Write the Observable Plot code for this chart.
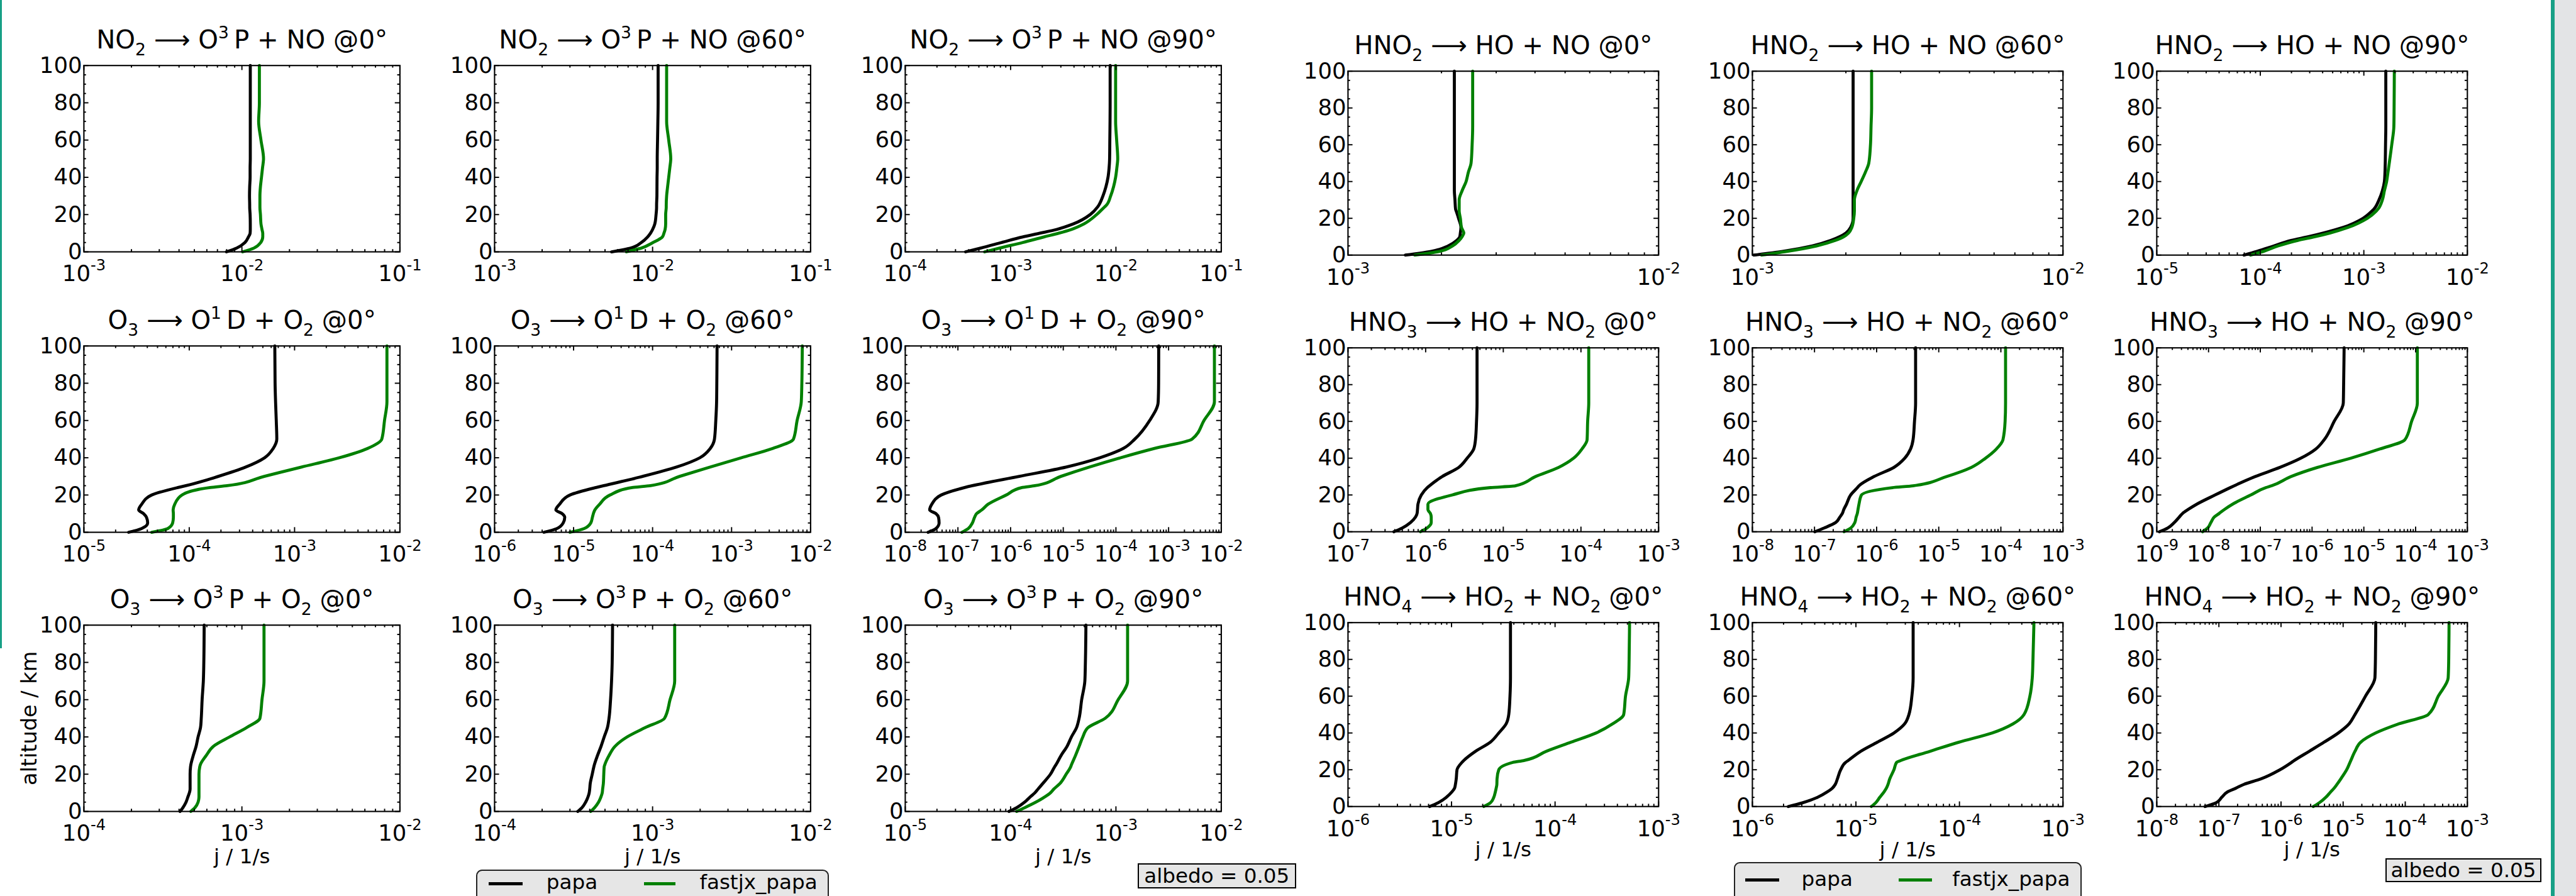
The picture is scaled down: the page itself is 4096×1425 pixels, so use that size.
<!DOCTYPE html>
<html><head><meta charset="utf-8">
<script src="https://cdn.jsdelivr.net/npm/d3@7"></script>
<script src="https://cdn.jsdelivr.net/npm/@observablehq/plot@0.6"></script>
<style>
html,body{margin:0;padding:0;background:#fff;overflow:hidden;}
#root{position:relative;width:4096px;height:1425px;overflow:hidden;background:#fff;font-family:"DejaVu Sans",sans-serif;color:#000;}
#root svg{max-width:none;}
</style></head><body><div id="root"></div>
<script>
const S = 0.959;

// altitude grid (km)
const altitude = [0,2,5,8,10,12,15,20,24,25,30,35,40,45,50,60,70,80,100];

// panel titles (left figure, then right figure; row-major). _x = subscript, ^x = superscript
const titles = [
  "NO_2 ⟶ O^3\u2009P + NO @0°", "NO_2 ⟶ O^3\u2009P + NO @60°", "NO_2 ⟶ O^3\u2009P + NO @90°",
  "O_3 ⟶ O^1\u2009D + O_2 @0°", "O_3 ⟶ O^1\u2009D + O_2 @60°", "O_3 ⟶ O^1\u2009D + O_2 @90°",
  "O_3 ⟶ O^3\u2009P + O_2 @0°", "O_3 ⟶ O^3\u2009P + O_2 @60°", "O_3 ⟶ O^3\u2009P + O_2 @90°",
  "HNO_2 ⟶ HO + NO @0°", "HNO_2 ⟶ HO + NO @60°", "HNO_2 ⟶ HO + NO @90°",
  "HNO_3 ⟶ HO + NO_2 @0°", "HNO_3 ⟶ HO + NO_2 @60°", "HNO_3 ⟶ HO + NO_2 @90°",
  "HNO_4 ⟶ HO_2 + NO_2 @0°", "HNO_4 ⟶ HO_2 + NO_2 @60°", "HNO_4 ⟶ HO_2 + NO_2 @90°"
];

// x-axis (j / 1/s) limits per panel
const xDomains = [
  [1e-3,1e-1],[1e-3,1e-1],[1e-4,1e-1],
  [1e-5,1e-2],[1e-6,1e-2],[1e-8,1e-2],
  [1e-4,1e-2],[1e-4,1e-2],[1e-5,1e-2],
  [1e-3,1e-2],[1e-3,1e-2],[1e-5,1e-2],
  [1e-7,1e-3],[1e-8,1e-3],[1e-9,1e-3],
  [1e-6,1e-3],[1e-6,1e-3],[1e-8,1e-3]
];

// photolysis rates j (1/s) at the altitude grid
const no2_0_papa   = [7.98e-3,9.25e-3,1.045e-2,1.10e-2,1.127e-2,1.13e-2,1.13e-2,1.127e-2,1.12e-2,1.12e-2,1.117e-2,1.12e-2,1.127e-2,1.127e-2,1.13e-2,1.13e-2,1.13e-2,1.13e-2,1.13e-2];
const no2_0_fastjx = [1.01e-2,1.19e-2,1.315e-2,1.355e-2,1.355e-2,1.34e-2,1.32e-2,1.31e-2,1.30e-2,1.30e-2,1.30e-2,1.31e-2,1.33e-2,1.35e-2,1.37e-2,1.32e-2,1.276e-2,1.29e-2,1.29e-2];
const no2_60_papa   = [5.5e-3,7.26e-3,8.48e-3,9.3e-3,9.7e-3,1.0e-2,1.033e-2,1.052e-2,1.06e-2,1.06e-2,1.065e-2,1.066e-2,1.067e-2,1.07e-2,1.07e-2,1.075e-2,1.08e-2,1.084e-2,1.084e-2];
const no2_60_fastjx = [6.83e-3,8.48e-3,1.007e-2,1.153e-2,1.18e-2,1.20e-2,1.21e-2,1.21e-2,1.22e-2,1.22e-2,1.227e-2,1.245e-2,1.265e-2,1.285e-2,1.303e-2,1.265e-2,1.227e-2,1.227e-2,1.227e-2];
const no2_90_papa   = [3.74e-4,5.18e-4,8.2e-4,1.30e-3,1.89e-3,2.73e-3,3.95e-3,5.70e-3,6.68e-3,6.87e-3,7.53e-3,8.04e-3,8.41e-3,8.61e-3,8.71e-3,8.75e-3,8.79e-3,8.81e-3,8.81e-3];
const no2_90_fastjx = [5.68e-4,7.83e-4,1.30e-3,2.07e-3,2.86e-3,3.77e-3,4.97e-3,6.56e-3,7.76e-3,8.11e-3,8.91e-3,9.5e-3,9.93e-3,1.02e-2,1.04e-2,1.016e-2,9.93e-3,9.93e-3,9.93e-3];
const o1d_0_papa   = [2.66e-5,3.53e-5,4.03e-5,3.93e-5,3.69e-5,3.31e-5,3.53e-5,4.40e-5,7.8e-5,9.3e-5,1.89e-4,3.44e-4,5.2e-4,6.27e-4,6.78e-4,6.7e-4,6.6e-4,6.53e-4,6.49e-4];
const o1d_0_fastjx = [4.4e-5,6.26e-5,6.96e-5,7.07e-5,7.07e-5,7.03e-5,7.28e-5,8.53e-5,1.58e-4,2.29e-4,5.16e-4,1.16e-3,2.66e-3,4.93e-3,6.73e-3,7.14e-3,7.53e-3,7.53e-3,7.53e-3];
const o1d_60_papa   = [4.22e-6,6.15e-6,7.38e-6,7.73e-6,7.16e-6,5.97e-6,6.64e-6,9.0e-6,1.92e-5,2.41e-5,7.5e-5,2.01e-4,3.97e-4,5.37e-4,6.07e-4,6.31e-4,6.46e-4,6.5e-4,6.55e-4];
const o1d_60_fastjx = [9.0e-6,1.36e-5,1.65e-5,1.73e-5,1.78e-5,1.86e-5,2.13e-5,2.89e-5,5.53e-5,9.42e-5,2.2e-4,5.37e-4,1.33e-3,3.31e-3,6.07e-3,6.75e-3,7.62e-3,7.75e-3,7.85e-3];
const o1d_90_papa   = [2.72e-8,3.83e-8,4.39e-8,4.29e-8,3.83e-8,2.91e-8,3.19e-8,4.81e-8,1.34e-7,1.88e-7,1.46e-6,1.13e-5,4.96e-5,1.38e-4,2.28e-4,4.37e-4,6.34e-4,6.46e-4,6.49e-4];
const o1d_90_fastjx = [1.19e-7,1.57e-7,1.88e-7,2.07e-7,2.26e-7,2.84e-7,3.72e-7,8.26e-7,1.64e-6,2.89e-6,9.02e-6,3.15e-5,1.23e-4,5.41e-4,2.79e-3,4.7e-3,7.41e-3,7.41e-3,7.41e-3];
const o3p_0_papa   = [4.06e-4,4.23e-4,4.43e-4,4.56e-4,4.65e-4,4.70e-4,4.70e-4,4.70e-4,4.73e-4,4.75e-4,4.92e-4,5.13e-4,5.28e-4,5.47e-4,5.53e-4,5.60e-4,5.70e-4,5.74e-4,5.77e-4];
const o3p_0_fastjx = [4.75e-4,5.04e-4,5.28e-4,5.35e-4,5.35e-4,5.35e-4,5.35e-4,5.35e-4,5.41e-4,5.45e-4,5.94e-4,6.61e-4,8.36e-4,1.07e-3,1.30e-3,1.34e-3,1.38e-3,1.38e-3,1.38e-3];
const o3p_60_papa   = [3.36e-4,3.57e-4,3.77e-4,3.91e-4,3.97e-4,4.0e-4,4.03e-4,4.15e-4,4.25e-4,4.28e-4,4.48e-4,4.72e-4,4.94e-4,5.18e-4,5.30e-4,5.42e-4,5.50e-4,5.55e-4,5.58e-4];
const o3p_60_fastjx = [4.06e-4,4.29e-4,4.55e-4,4.72e-4,4.80e-4,4.83e-4,4.88e-4,4.91e-4,4.94e-4,4.98e-4,5.30e-4,5.79e-4,6.90e-4,8.99e-4,1.19e-3,1.29e-3,1.38e-3,1.38e-3,1.38e-3];
const o3p_90_papa   = [9.64e-5,1.14e-4,1.36e-4,1.55e-4,1.70e-4,1.82e-4,2.02e-4,2.39e-4,2.62e-4,2.69e-4,3.01e-4,3.44e-4,3.78e-4,4.23e-4,4.47e-4,4.73e-4,5.07e-4,5.13e-4,5.19e-4];
const o3p_90_fastjx = [1.14e-4,1.36e-4,1.74e-4,2.14e-4,2.39e-4,2.57e-4,2.94e-4,3.37e-4,3.72e-4,3.78e-4,4.13e-4,4.48e-4,4.85e-4,5.43e-4,7.91e-4,1.05e-3,1.29e-3,1.29e-3,1.29e-3];
const hno2_0_papa   = [1.53e-3,1.85e-3,2.10e-3,2.24e-3,2.29e-3,2.30e-3,2.31e-3,2.27e-3,2.23e-3,2.22e-3,2.21e-3,2.20e-3,2.20e-3,2.20e-3,2.20e-3,2.20e-3,2.20e-3,2.20e-3,2.20e-3];
const hno2_0_fastjx = [1.64e-3,1.97e-3,2.17e-3,2.28e-3,2.33e-3,2.36e-3,2.32e-3,2.30e-3,2.28e-3,2.28e-3,2.28e-3,2.33e-3,2.40e-3,2.44e-3,2.49e-3,2.51e-3,2.52e-3,2.52e-3,2.52e-3];
const hno2_60_papa   = [1.01e-3,1.25e-3,1.56e-3,1.79e-3,1.91e-3,2.0e-3,2.07e-3,2.11e-3,2.11e-3,2.11e-3,2.11e-3,2.11e-3,2.11e-3,2.11e-3,2.11e-3,2.11e-3,2.11e-3,2.11e-3,2.11e-3];
const hno2_60_fastjx = [1.07e-3,1.29e-3,1.61e-3,1.85e-3,1.97e-3,2.04e-3,2.09e-3,2.12e-3,2.13e-3,2.13e-3,2.13e-3,2.17e-3,2.24e-3,2.31e-3,2.37e-3,2.40e-3,2.41e-3,2.42e-3,2.42e-3];
const hno2_90_papa   = [6.95e-5,9.27e-5,1.36e-4,1.99e-4,2.92e-4,4.07e-4,6.27e-4,9.82e-4,1.20e-3,1.25e-3,1.40e-3,1.51e-3,1.58e-3,1.60e-3,1.61e-3,1.62e-3,1.63e-3,1.63e-3,1.63e-3];
const hno2_90_fastjx = [8.04e-5,1.07e-4,1.49e-4,2.30e-4,3.37e-4,4.70e-4,7.01e-4,1.08e-3,1.32e-3,1.37e-3,1.51e-3,1.58e-3,1.66e-3,1.71e-3,1.76e-3,1.86e-3,1.95e-3,1.96e-3,1.97e-3];
const hno3_0_papa   = [3.89e-7,4.98e-7,6.37e-7,7.41e-7,7.76e-7,7.85e-7,7.96e-7,8.79e-7,1.05e-6,1.12e-6,1.63e-6,2.67e-6,3.42e-6,4.16e-6,4.38e-6,4.52e-6,4.59e-6,4.59e-6,4.59e-6];
const hno3_0_fastjx = [8.57e-7,1.04e-6,1.18e-6,1.18e-6,1.15e-6,1.07e-6,1.07e-6,2.19e-6,6.82e-6,1.43e-5,2.59e-5,5.16e-5,8.05e-5,1.03e-4,1.20e-4,1.22e-4,1.26e-4,1.26e-4,1.26e-4];
const hno3_60_papa   = [1.01e-7,1.42e-7,2.19e-7,2.56e-7,2.81e-7,2.95e-7,3.27e-7,3.82e-7,4.90e-7,5.20e-7,9.06e-7,1.90e-6,2.84e-6,3.52e-6,3.86e-6,4.07e-6,4.24e-6,4.24e-6,4.24e-6];
const hno3_60_fastjx = [2.99e-7,3.82e-7,4.46e-7,4.68e-7,4.89e-7,5.01e-7,5.20e-7,5.70e-7,1.79e-6,3.86e-6,1.33e-5,3.35e-5,5.66e-5,8.47e-5,1.08e-4,1.17e-4,1.19e-4,1.19e-4,1.19e-4];
const hno3_90_papa   = [1.12e-9,1.62e-9,2.18e-9,2.72e-9,3.16e-9,3.98e-9,5.92e-9,1.34e-8,2.63e-8,3.13e-8,7.91e-8,2.40e-7,6.07e-7,1.18e-6,1.71e-6,2.67e-6,4.01e-6,4.07e-6,4.16e-6];
const hno3_90_fastjx = [7.67e-9,9.57e-9,1.11e-8,1.29e-8,1.61e-8,2.0e-8,2.91e-8,6.58e-8,1.28e-7,1.66e-7,3.89e-7,1.27e-6,5.58e-6,2.04e-5,6.21e-5,8.36e-5,1.08e-4,1.08e-4,1.08e-4];
const hno4_0_papa   = [6.14e-6,7.40e-6,8.89e-6,1.01e-5,1.07e-5,1.09e-5,1.11e-5,1.13e-5,1.26e-5,1.31e-5,1.70e-5,2.37e-5,2.86e-5,3.37e-5,3.57e-5,3.67e-5,3.71e-5,3.71e-5,3.71e-5];
const hno4_0_fastjx = [2.05e-5,2.37e-5,2.56e-5,2.65e-5,2.70e-5,2.74e-5,2.75e-5,2.86e-5,3.91e-5,4.98e-5,8.20e-5,1.43e-4,2.49e-4,3.61e-4,4.60e-4,4.79e-4,5.14e-4,5.19e-4,5.24e-4];
const hno4_60_papa   = [2.22e-6,3.04e-6,4.25e-6,5.30e-6,5.92e-6,6.31e-6,6.62e-6,7.13e-6,7.94e-6,8.41e-6,1.11e-5,1.61e-5,2.33e-5,2.96e-5,3.25e-5,3.47e-5,3.57e-5,3.57e-5,3.57e-5];
const hno4_60_fastjx = [1.41e-5,1.55e-5,1.70e-5,1.87e-5,1.97e-5,2.04e-5,2.12e-5,2.33e-5,2.47e-5,2.70e-5,5.18e-5,9.89e-5,2.07e-4,3.30e-4,4.20e-4,4.79e-4,5.05e-4,5.13e-4,5.24e-4];
const hno4_90_papa   = [5.98e-8,8.95e-8,1.11e-7,1.38e-7,1.88e-7,2.51e-7,4.74e-7,9.64e-7,1.48e-6,1.63e-6,2.84e-6,4.94e-6,8.36e-6,1.25e-5,1.55e-5,2.29e-5,3.25e-5,3.31e-5,3.35e-5];
const hno4_90_fastjx = [3.31e-6,4.11e-6,5.26e-6,6.31e-6,7.16e-6,7.94e-6,9.16e-6,1.14e-5,1.29e-5,1.33e-5,1.55e-5,1.92e-5,3.35e-5,7.96e-5,2.34e-4,3.40e-4,4.91e-4,5.01e-4,5.07e-4];

const papaSeries = [no2_0_papa,no2_60_papa,no2_90_papa,o1d_0_papa,o1d_60_papa,o1d_90_papa,o3p_0_papa,o3p_60_papa,o3p_90_papa,
  hno2_0_papa,hno2_60_papa,hno2_90_papa,hno3_0_papa,hno3_60_papa,hno3_90_papa,hno4_0_papa,hno4_60_papa,hno4_90_papa];
const fastjxSeries = [no2_0_fastjx,no2_60_fastjx,no2_90_fastjx,o1d_0_fastjx,o1d_60_fastjx,o1d_90_fastjx,o3p_0_fastjx,o3p_60_fastjx,o3p_90_fastjx,
  hno2_0_fastjx,hno2_60_fastjx,hno2_90_fastjx,hno3_0_fastjx,hno3_60_fastjx,hno3_90_fastjx,hno4_0_fastjx,hno4_60_fastjx,hno4_90_fastjx];

const seriesNames = ["papa", "fastjx_papa"];
const seriesColors = ["#000000", "#008000"];
const yTicks = [0,20,40,60,80,100];
const albedoText = "albedo = 0.05";
const xLabel = "j / 1/s";
const yLabel = "altitude / km";

// ---------- layout (reference pixel units) ----------
const layout = [
  {x:[139,820,1500], y:[108,573,1036], w:524, h:309, xlabDy:86},
  {x:[2235,2905,3575], y:[118,576,1032], w:515, h:305, xlabDy:83}
];
const FONT = "'DejaVu Sans', sans-serif";
const SVGNS = "http://www.w3.org/2000/svg";

// turn "_x" / "^x" / "^{..}" markup into sub/superscript tspans
function richify(t, F, scale, raise, drop) {
  const s = t.textContent;
  const parts = [];
  const re = /([\^_])(?:\{([^}]*)\}|(.))/g;
  let last = 0, m;
  while ((m = re.exec(s))) {
    if (m.index > last) parts.push({k: 0, s: s.slice(last, m.index)});
    parts.push({k: m[1] === "^" ? 1 : -1, s: m[2] != null ? m[2] : m[3]});
    last = re.lastIndex;
  }
  if (last < s.length) parts.push({k: 0, s: s.slice(last)});
  while (t.firstChild) t.removeChild(t.firstChild);
  let cur = 0;
  for (const p of parts) {
    const ts = document.createElementNS(SVGNS, "tspan");
    const target = p.k === 1 ? -raise * F : p.k === -1 ? drop * F : 0;
    if (target !== cur) ts.setAttribute("dy", (target - cur).toFixed(2));
    cur = target;
    if (p.k) ts.setAttribute("font-size", (scale * F).toFixed(2));
    ts.textContent = p.s;
    t.appendChild(ts);
  }
}

const root = document.getElementById("root");
const TICKF = 37 * S, TITLEF = 42 * S;

for (let i = 0; i < 18; i++) {
  const g = i < 9 ? 0 : 1, k = i % 9, r = Math.floor(k / 3), c = k % 3;
  const L = layout[g];
  const w = L.w * S, h = L.h * S;
  const ML = 100 * S, MR = 40 * S, MT = 80 * S, MB = 120 * S;
  const [lo, hi] = xDomains[i];
  const e0 = Math.round(Math.log10(lo)), e1 = Math.round(Math.log10(hi));
  const majX = d3.range(e0, e1 + 1).map(e => +("1e" + e));
  const minX = [];
  for (let e = e0; e < e1; e++) for (let m = 2; m <= 9; m++) minX.push(+(m + "e" + e));
  const minY = d3.range(5, 100, 5).filter(v => v % 20 !== 0);
  const majL = 8 * S, minL = 4 * S;
  const fy = len => 100 * len / h;
  const fx = len => Math.pow(10, (e1 - e0) * len / w);
  const tickW = 2 * S;

  const rows = [papaSeries[i], fastjxSeries[i]].map((arr, s) =>
    altitude.map((a, j) => ({alt: a, j: arr[j], series: seriesNames[s]})));

  const tickMarks = [];
  [[majX, majL], [minX, minL]].forEach(([vals, len]) => {
    tickMarks.push(Plot.ruleX(vals, {x: d => d, y1: () => 0, y2: () => fy(len), stroke: "black", strokeWidth: tickW}));
    tickMarks.push(Plot.ruleX(vals, {x: d => d, y1: () => 100, y2: () => 100 - fy(len), stroke: "black", strokeWidth: tickW}));
  });
  [[yTicks, majL], [minY, minL]].forEach(([vals, len]) => {
    tickMarks.push(Plot.ruleY(vals, {y: d => d, x1: () => lo, x2: () => lo * fx(len), stroke: "black", strokeWidth: tickW}));
    tickMarks.push(Plot.ruleY(vals, {y: d => d, x1: () => hi, x2: () => hi / fx(len), stroke: "black", strokeWidth: tickW}));
  });

  const marks = [
    Plot.line(rows[0], {x: "j", y: "alt", stroke: seriesColors[0], strokeWidth: 5 * S, curve: "monotone-y"}),
    Plot.line(rows[1], {x: "j", y: "alt", stroke: seriesColors[1], strokeWidth: 5 * S, curve: "monotone-y"}),
    ...tickMarks,
    Plot.frame({stroke: "black", strokeWidth: 2.2 * S}),
    Plot.text(majX, {x: d => d, frameAnchor: "bottom", dy: 37 * S, lineAnchor: "middle",
      text: d => "10^{" + Math.round(Math.log10(d)) + "}", fontSize: TICKF, fill: "black"}),
    Plot.text(yTicks, {y: d => d, frameAnchor: "left", dx: -3 * S, textAnchor: "end", lineAnchor: "middle",
      text: d => String(d), fontSize: TICKF, fill: "black"}),
    Plot.text([titles[i]], {frameAnchor: "top", dy: -28 * S, lineAnchor: "bottom",
      text: d => d, fontSize: TITLEF, fill: "black"})
  ];
  if (r === 2) marks.push(Plot.text([xLabel], {frameAnchor: "bottom", dy: L.xlabDy * S, lineAnchor: "bottom", text: d => d, fontSize: 34 * S, fill: "black"}));
  if (g === 0 && r === 2 && c === 0) marks.push(Plot.text([yLabel], {frameAnchor: "left", dx: (60 - 139) * S, rotate: -90, lineAnchor: "bottom", textAnchor: "middle", text: d => d, fontSize: 35 * S, fill: "black"}));

  const svg = Plot.plot({
    width: ML + w + MR, height: MT + h + MB,
    marginLeft: ML, marginRight: MR, marginTop: MT, marginBottom: MB,
    x: {type: "log", domain: [lo, hi], axis: null},
    y: {domain: [0, 100], axis: null},
    style: {background: "none", overflow: "visible", fontFamily: FONT, color: "black"},
    marks
  });
  svg.querySelectorAll("text").forEach(t => {
    const s = t.textContent;
    if (s.startsWith("10^{")) richify(t, TICKF, 0.68, 0.5, 0.26);
    else if (/[\^_]/.test(s)) richify(t, TITLEF, 0.66, 0.41, 0.26);
  });
  svg.style.position = "absolute";
  svg.style.left = (L.x[c] * S - ML) + "px";
  svg.style.top = (L.y[r] * S - MT) + "px";
  svg.style.maxWidth = "none";
  root.appendChild(svg);
}

// ---------- decorations, legends, albedo notes ----------
function box(css, text) {
  const d = document.createElement("div");
  Object.assign(d.style, {position: "absolute", whiteSpace: "nowrap", fontFamily: FONT}, css);
  if (text != null) d.textContent = text;
  root.appendChild(d);
  return d;
}
const P = v => (v * S) + "px";
const TEAL = "#17a086";
box({left: "0px", top: "0px", width: P(3), height: P(1075), background: TEAL});
box({left: P(4229), top: "0px", width: P(7), height: "1425px", background: TEAL});
box({left: P(4236), top: "0px", width: (4096 - 4236 * S) + "px", height: "1425px", background: "#e3e4e6"});

function legend(x0, x1, top, sampleY, baseY, sx, tx) {
  box({left: P(x0), top: P(top), width: P(x1 - x0), height: P(160), boxSizing: "border-box",
       border: P(2.2) + " solid #222", borderRadius: P(10), background: "#e6e6e6"});
  const F = 34;
  seriesNames.forEach((name, s) => {
    box({left: P(sx[s][0]), top: P(sampleY - 2.6), width: P(sx[s][1] - sx[s][0]), height: P(5.2), background: seriesColors[s]});
    box({left: P(tx[s]), top: P(baseY - 0.846 * F), fontSize: P(F), lineHeight: P(F)}, name);
  });
}
legend(789, 1374, 1442, 1466, 1475, [[810, 867], [1068, 1120]], [906, 1160]);
legend(2875, 3452, 1430, 1459, 1470, [[2894, 2950], [3148, 3203]], [2987, 3237]);

function albedo(x0, y0, x1, y1) {
  box({left: P(x0), top: P(y0), width: P(x1 - x0), height: P(y1 - y0), boxSizing: "border-box",
       border: P(2.2) + " solid #000", background: "#e6e6e6", display: "flex", alignItems: "center",
       justifyContent: "center", fontSize: P(34), lineHeight: P(34)}, albedoText);
}
albedo(1886, 1432, 2149, 1473);
albedo(3955, 1423, 4214, 1463);
</script>
</body></html>
